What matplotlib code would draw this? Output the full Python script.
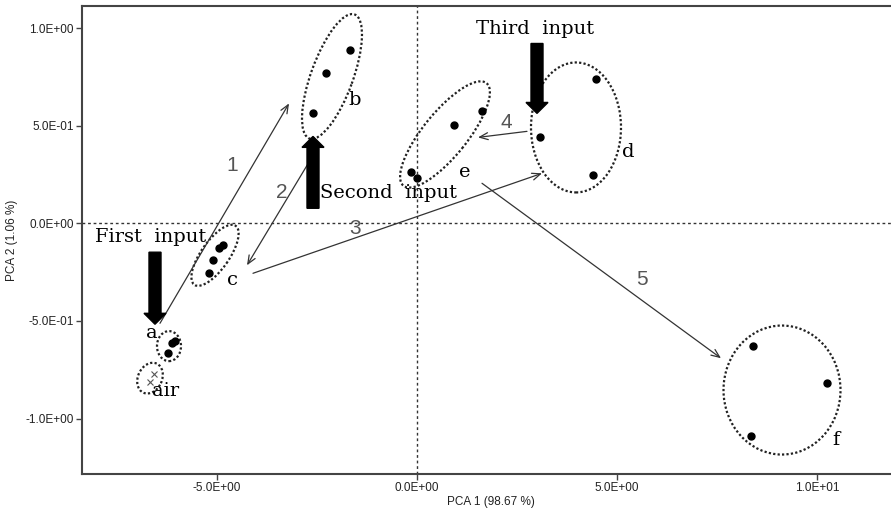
import matplotlib
matplotlib.use('Agg')
import matplotlib.pyplot as plt
from matplotlib.patches import Ellipse, FancyArrow
from matplotlib.transforms import ScaledTranslation

# ---------------------------------------------------------
# Data (PCA scores)
# ---------------------------------------------------------
a_x = [-6.05, -6.125, -6.225]
a_y = [-0.605, -0.614, -0.665]
b_x = [-1.675, -2.275, -2.6]
b_y = [0.890, 0.772, 0.563]
c_x = [-4.85, -4.95, -5.1, -5.2]
c_y = [-0.11, -0.125, -0.189, -0.256]
d_x = [4.475, 3.075, 4.4]
d_y = [0.737, 0.440, 0.246]
e_x = [1.625, 0.925, -0.15, 0.0]
e_y = [0.573, 0.506, 0.261, 0.230]
f_x = [8.4, 10.25, 8.35]
f_y = [-0.629, -0.818, -1.09]
air_x = [-6.575, -6.675]
air_y = [-0.772, -0.813]

xticks = [-5, 0, 5, 10]
xtick_labels = ['-5.0E+00', '0.0E+00', '5.0E+00', '1.0E+01']
yticks = [1.0, 0.5, 0.0, -0.5, -1.0]
ytick_labels = ['1.0E+00', '5.0E-01', '0.0E+00', '-5.0E-01', '-1.0E+00']

# ---------------------------------------------------------
# Figure
# ---------------------------------------------------------
W, H = 891, 513
fig = plt.figure(figsize=(W / 100, H / 100), dpi=100)
ax = fig.add_axes([82 / W, 39 / H, (900 - 82) / W, 468 / H])
ax.set_xlim(-8.375, 12.075)
ax.set_ylim(-1.284, 1.113)

for s in ['left', 'bottom', 'top']:
    ax.spines[s].set_color('#444444')
    ax.spines[s].set_linewidth(1.5)
ax.spines['right'].set_visible(False)

ax.set_xticks(xticks)
ax.set_xticklabels(xtick_labels)
ax.set_yticks(yticks)
ax.set_yticklabels(ytick_labels)
ax.tick_params(direction='out', length=4, width=1, color='#444444',
               labelsize=8.5, labelcolor='#222222', pad=2)
for lab in ax.get_xticklabels() + ax.get_yticklabels():
    lab.set_family('Liberation Sans')

ax.set_xlabel('PCA 1 (98.67 %)', fontsize=8.5, family='Liberation Sans', color='#222222', labelpad=1)
ax.set_ylabel('PCA 2 (1.06 %)', fontsize=8.5, family='Liberation Sans', color='#222222', labelpad=5)

# zero lines
ax.axhline(0, color='#333333', ls=(0, (2, 2)), lw=1, zorder=1)
ax.axvline(0, color='#333333', ls=(0, (2, 2)), lw=1, zorder=1)

# points
for xs, ys in [(a_x, a_y), (b_x, b_y), (c_x, c_y), (d_x, d_y), (e_x, e_y), (f_x, f_y)]:
    ax.plot(xs, ys, 'o', color='black', ms=5, zorder=3)
ax.plot(air_x, air_y, 'x', color='#555555', ms=5, mew=0.8, zorder=3)

# dotted group ellipses (center in data, size in pixels)
def group_ellipse(cx, cy, w, h, ang):
    tr = fig.dpi_scale_trans + ScaledTranslation(cx, cy, ax.transData)
    ax.add_patch(Ellipse((0, 0), w / 100, h / 100, angle=ang, transform=tr,
                         fill=False, ls=(0, (1, 1)), lw=1.6, color='#222222'))

group_ellipse(-2.125, 0.752, 132, 42, 70)   # b
group_ellipse(0.7, 0.455, 132, 44, 51)      # e
group_ellipse(3.975, 0.491, 90, 130, 0)     # d
group_ellipse(-5.05, -0.164, 72, 28, 55)    # c
group_ellipse(-6.2, -0.629, 24, 30, 0)      # a
group_ellipse(-6.675, -0.793, 32, 24, 65)   # air
group_ellipse(9.125, -0.854, 117, 129, 0)   # f

# thin path arrows
paths = [((-6.425, -0.512), (-3.2, 0.614)),
         ((-2.675, 0.322), (-4.25, -0.215)),
         ((-4.1, -0.256), (3.125, 0.256)),
         ((2.75, 0.471), (1.525, 0.44)),
         ((1.625, 0.205), (7.6, -0.691))]
for start, end in paths:
    ax.annotate('', xy=end, xytext=start,
                arrowprops=dict(arrowstyle='->,head_length=0.6,head_width=0.25',
                                color='#333333', lw=0.9, shrinkA=0, shrinkB=0))

step_labels = [('1', -4.625, 0.297), ('2', -3.375, 0.159), ('3', -1.55, -0.026),
               ('4', 2.225, 0.517), ('5', 5.625, -0.286)]
for t, x, y in step_labels:
    ax.text(x, y, t, fontsize=15, color='#555555', ha='center', va='center',
            family='Liberation Sans')

# bold input arrows
def input_arrow(x, y0, y1):
    ax.add_patch(FancyArrow(x, y0, 0, y1 - y0, width=0.3, head_width=0.55,
                            head_length=0.056, length_includes_head=True,
                            color='black', zorder=4))

input_arrow(-6.55, -0.148, -0.517)
input_arrow(-2.6, 0.077, 0.445)
input_arrow(3.0, 0.921, 0.563)

serif = 'DejaVu Serif'
ax.text(-8.05, -0.072, 'First  input', fontsize=14, family=serif, ha='left', va='center')
ax.text(-2.425, 0.153, 'Second  input', fontsize=14, family=serif, ha='left', va='center')
ax.text(1.475, 0.997, 'Third  input', fontsize=14, family=serif, ha='left', va='center')

group_labels = [('b', -1.55, 0.629), ('e', 1.2, 0.261), ('d', 5.275, 0.363),
                ('c', -4.625, -0.292), ('a', -6.625, -0.563), ('air', -6.275, -0.859),
                ('f', 10.475, -1.11)]
for t, x, y in group_labels:
    ax.text(x, y, t, fontsize=14, family=serif, ha='center', va='center')

plt.savefig('out.png', dpi=100)
